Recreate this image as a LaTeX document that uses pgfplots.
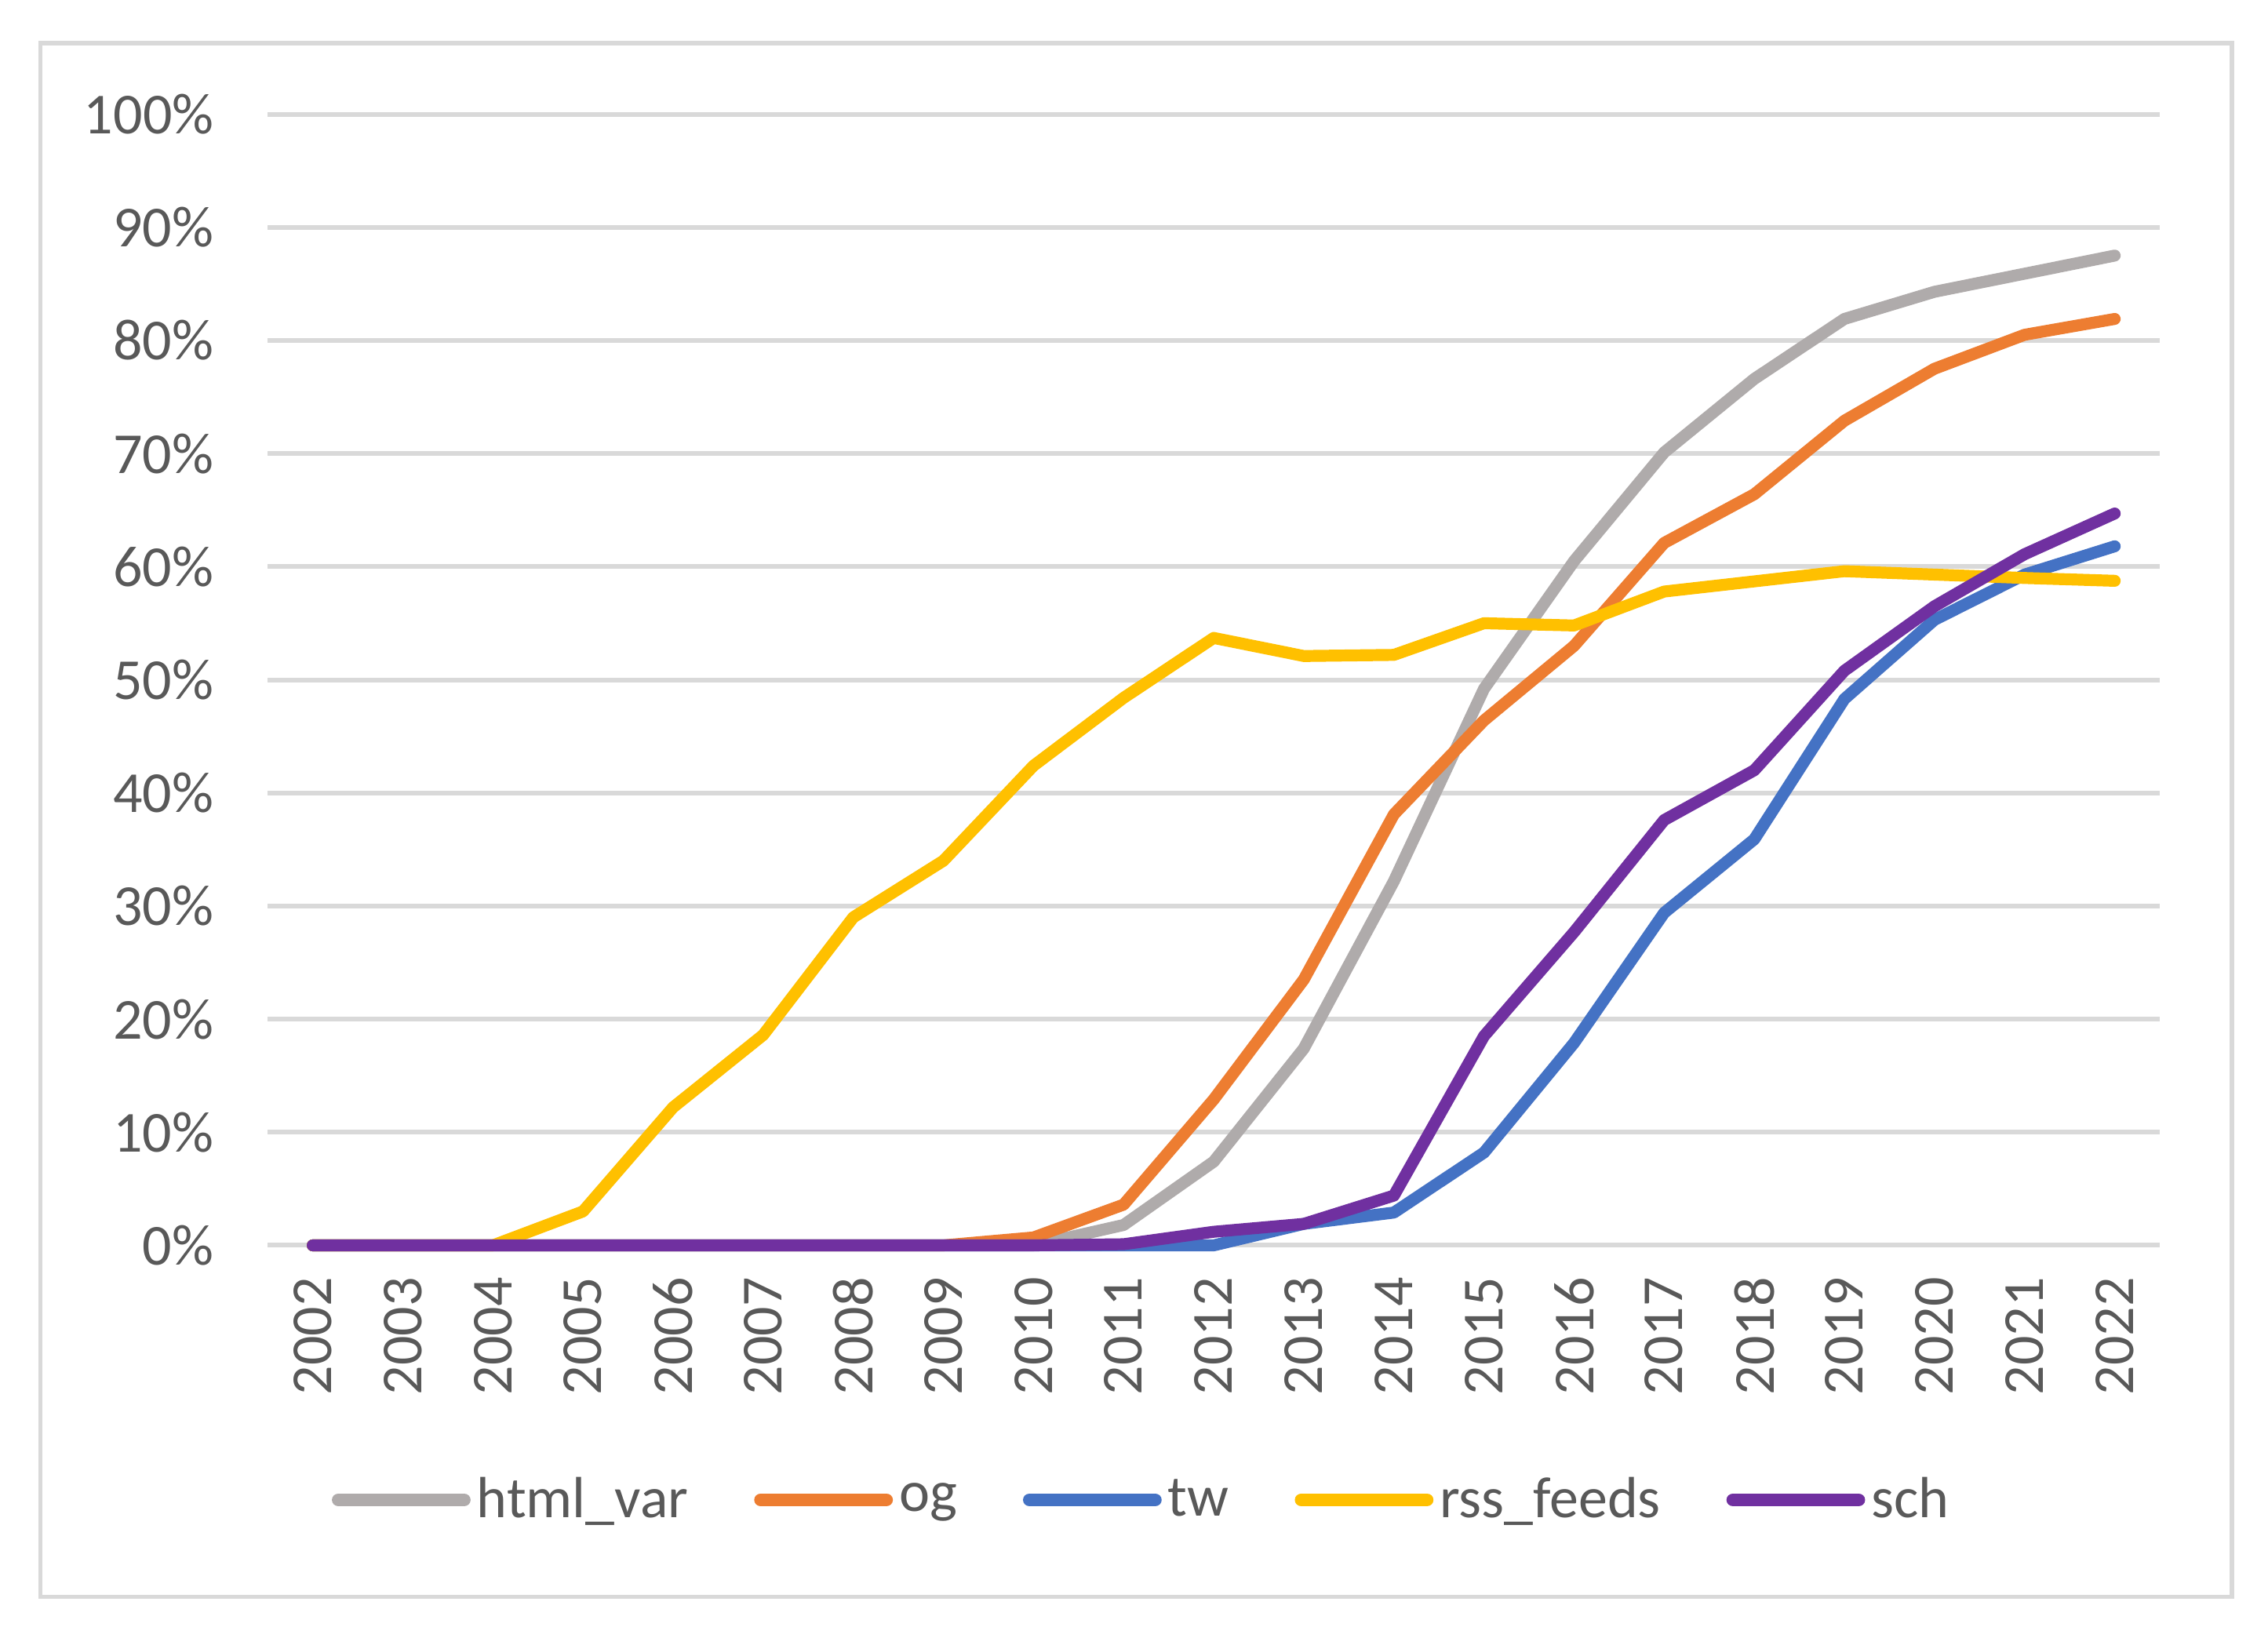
\documentclass[border=0pt]{standalone}
\usepackage{fontspec}
\setmainfont{Carlito}
\usepackage{pgfplots}
\usepackage{pgfplotstable}
\pgfplotsset{compat=1.18}

\definecolor{cgray}{HTML}{AFABAB}
\definecolor{corange}{HTML}{ED7D31}
\definecolor{cblue}{HTML}{4472C4}
\definecolor{cyellow}{HTML}{FFC000}
\definecolor{cpurple}{HTML}{7030A0}
\definecolor{grid}{HTML}{D9D9D9}
\definecolor{txt}{HTML}{595959}

% share of sites per year (%)
\pgfplotstableread{
year html og   tw   rss   sch
2002 0    0    0    0     0
2003 0    0    0    0     0
2004 0    0    0    0     0
2005 0    0    0    3.0   0
2006 0    0    0    12.2  0
2007 0    0    0    18.6  0
2008 0    0    0    29.0  0
2009 0    0    0    34.0  0
2010 0    0.7  0    42.4  0
2011 1.8  3.6  0    48.4  0.1
2012 7.4  12.9 0    53.7  1.2
2013 17.4 23.5 1.9  52.1  1.9
2014 32.2 38.1 2.9  52.2  4.4
2015 49.2 46.4 8.2  55.0  18.5
2016 60.5 53.0 17.9 54.8  27.7
2017 70.1 62.1 29.4 57.8  37.6
2018 76.6 66.4 35.9 58.7  42.0
2019 81.9 72.9 48.3 59.6  50.8
2020 84.3 77.5 55.3 59.3  56.5
2021 85.9 80.5 59.3 59.0  61.1
2022 87.5 81.9 61.8 58.75 64.7
}\datatable

\begin{document}
\begin{tikzpicture}
\begin{axis}[
    scale only axis,
    width=603pt, height=360.5pt,
    xmin=2001.5, xmax=2022.5,
    ymin=0, ymax=100,
    xtick={2002,...,2022},
    ytick={0,10,...,100},
    /pgf/number format/.cd, 1000 sep={}, assume math mode=true, /pgfplots/.cd,
    yticklabel={\pgfmathprintnumber{\tick}\%},
    axis line style={draw=none},
    major tick length=0pt,
    ymajorgrids=true,
    grid style={draw=grid, line width=1.5pt},
    tick label style={font=\fontsize{18.5}{22}\selectfont, text=txt},
    xticklabel style={rotate=90, anchor=east, inner sep=0pt},
    xticklabel shift=10pt,
    yticklabel style={inner sep=0pt},
    yticklabel shift=17pt,
    clip=false,
    every axis plot/.append style={line width=3.8pt, line cap=round, line join=round},
    legend columns=5,
    legend style={
        at={(axis description cs:0.463,-0.225)}, anchor=center,
        draw=none, fill=none,
        font=\fontsize{18.5}{22}\selectfont, text=txt,
        /tikz/every even column/.append style={column sep=19pt},
        inner sep=0pt,
    },
    legend image code/.code={\draw[#1, line width=4.2pt, line cap=round] (0pt,0pt) -- (40pt,0pt);},
]
\addplot[cgray]   table[x=year, y=html] {\datatable};
\addlegendentry{html\_var}
\addplot[corange] table[x=year, y=og]   {\datatable};
\addlegendentry{og}
\addplot[cblue]   table[x=year, y=tw]   {\datatable};
\addlegendentry{tw}
\addplot[cyellow] table[x=year, y=rss]  {\datatable};
\addlegendentry{rss\_feeds}
\addplot[cpurple] table[x=year, y=sch]  {\datatable};
\addlegendentry{sch}
\end{axis}
\draw[grid, line width=1.4pt] ([xshift=-72.4pt,yshift=-112pt]current axis.south west)
    rectangle ([xshift=23pt,yshift=22.6pt]current axis.north east);
\path ([xshift=-85.3pt,yshift=-124.9pt]current axis.south west)
    rectangle ([xshift=34.5pt,yshift=36.4pt]current axis.north east);
\end{tikzpicture}
\end{document}
